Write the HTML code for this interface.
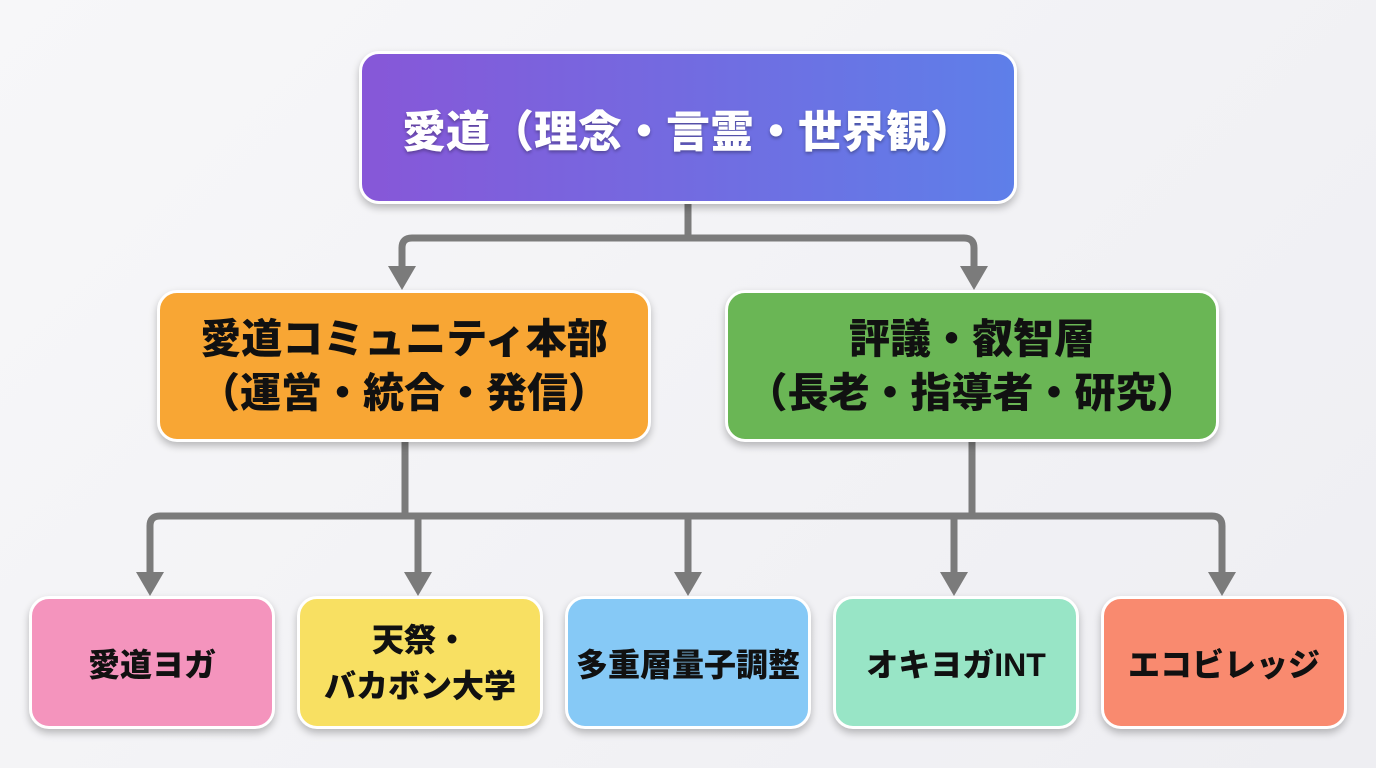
<!DOCTYPE html>
<html><head><meta charset="utf-8"><style>
body{margin:0;width:1376px;height:768px;overflow:hidden;background:linear-gradient(135deg,#f7f7f9,#eeeef2);font-family:"Liberation Sans","Noto Sans CJK JP",sans-serif;position:relative}
.b{position:absolute;box-sizing:border-box;border:3px solid #fff;border-radius:20px;display:flex;align-items:center;justify-content:center;text-align:center;font-weight:900;color:#111;box-shadow:0 4px 8px rgba(0,0,0,.25);white-space:nowrap}
svg{position:absolute;left:0;top:0}
</style></head><body>
<svg width="1376" height="768"><g stroke="#7b7b7b" stroke-width="7" fill="none" stroke-linejoin="round">
<path d="M688 203V238M402 270V248Q402 238 412 238H964Q974 238 974 248V270"/>
<path d="M405 441V516M972 441V516M150 578V526Q150 516 160 516H1212Q1222 516 1222 526V578M418 516V578M688 516V578M954 516V578"/>
</g><g fill="#7b7b7b">
<path d="M388 266H416L402 290Z"/><path d="M960 266H988L974 290Z"/>
<path d="M136 572H164L150 596Z"/><path d="M404 572H432L418 596Z"/><path d="M674 572H702L688 596Z"/><path d="M940 572H968L954 596Z"/><path d="M1208 572H1236L1222 596Z"/>
</g></svg>
<div class="b" style="left:359px;top:51px;width:658px;height:153px;background:linear-gradient(90deg,#8757d8,#5e7fe9);color:#fff;font-size:44px;text-shadow:0 2px 3px rgba(0,0,0,.3)">愛道（理念・言霊・世界観）</div>
<div class="b" style="left:157px;top:290px;width:494px;height:152px;background:#f8a634;font-size:41px;line-height:54px">愛道コミュニティ本部<br>（運営・統合・発信）</div>
<div class="b" style="left:725px;top:290px;width:494px;height:152px;background:#6ab655;font-size:41px;line-height:54px">評議・叡智層<br>（長老・指導者・研究）</div>
<div class="b" style="left:29px;top:596px;width:246px;height:133px;background:#f494bd;font-size:32px">愛道ヨガ</div>
<div class="b" style="left:297px;top:596px;width:246px;height:133px;background:#f8e062;font-size:32px;line-height:46px">天祭・<br>バカボン大学</div>
<div class="b" style="left:565px;top:596px;width:246px;height:133px;background:#86c9f6;font-size:32px">多重層量子調整</div>
<div class="b" style="left:833px;top:596px;width:246px;height:133px;background:#98e5c6;font-size:32px">オキヨガINT</div>
<div class="b" style="left:1101px;top:596px;width:246px;height:133px;background:#f98a6f;font-size:32px">エコビレッジ</div>
</body></html>
